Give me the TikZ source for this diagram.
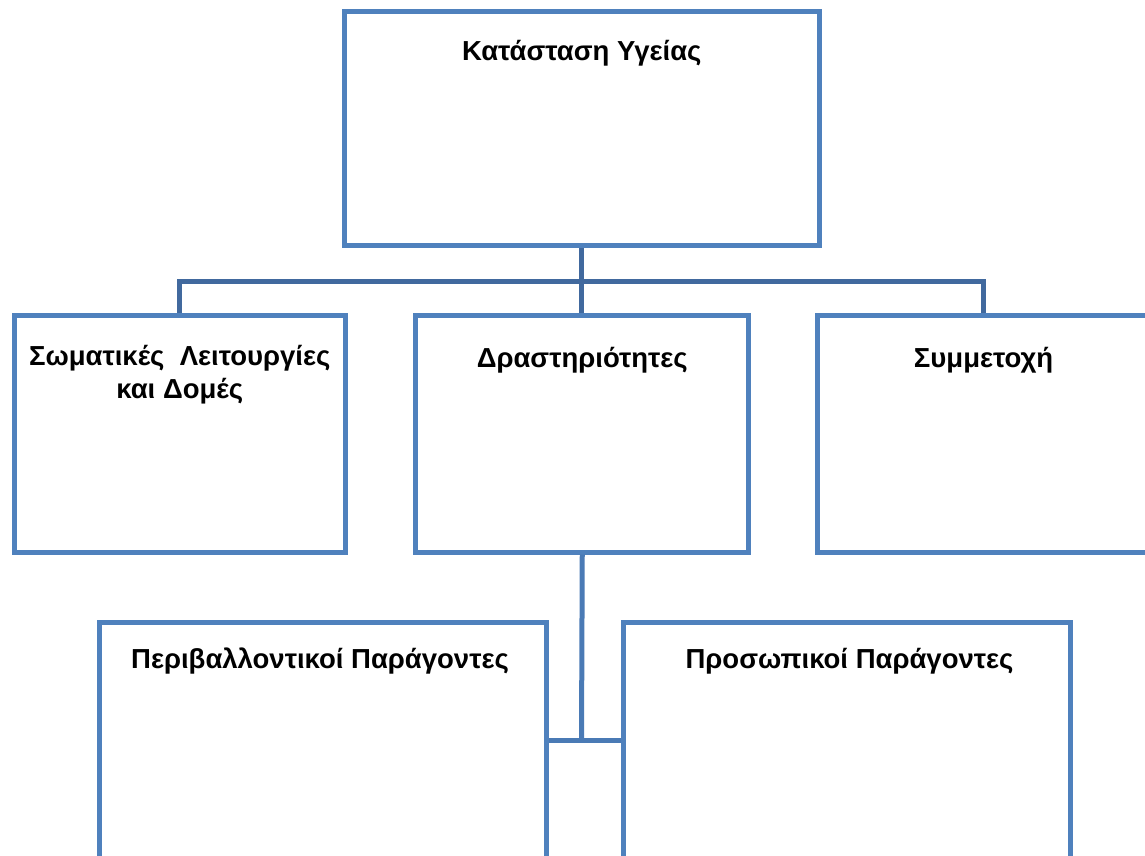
\documentclass[tikz,border=0pt]{standalone}
\usepackage{fontspec}
\setmainfont{Liberation Sans}
\usetikzlibrary{positioning}
\definecolor{boxblue}{HTML}{4F81BD}
\definecolor{linkblue}{HTML}{41699E}
\definecolor{hubblue}{HTML}{4A7AB5}

\begin{document}
\begin{tikzpicture}[x=1pt, y=-1pt,
box/.style={rectangle, draw=boxblue, line width=5pt, inner sep=0pt, minimum width=333pt, minimum height=237pt},
tag/.style={font=\fontsize{27.5}{33}\selectfont\bfseries, align=center, anchor=base, inner sep=0pt},
link/.style={draw=linkblue, line width=5pt}]

\clip (0,0) rectangle (1145,856);

%Health
\node [box, minimum width=474.5pt, minimum height=234pt] at (581.75,128.5) (health) {};
\node [tag] at (581.75,61) (healthtxt) {Κατάσταση Υγείας};

%Row of three
\node [box, minimum width=331.5pt] at (179.75,433.5) (body) {};
\node [tag] at (179.75,398) (bodytxt) {Σωματικές\ \ Λειτουργίες\\και Δομές};
\node [box] at (582.25,433.5) (tasks) {};
\node [tag] at (582.25,367) (taskstxt) {Δραστηριότητες};
\node [box, minimum width=332pt] at (983.5,433.5) (part) {};
\node [tag] at (983.5,367) (parttxt) {Συμμετοχή};

%Factors
\node [box, minimum width=447pt, minimum height=240pt] at (323,742) (env) {};
\node [tag] at (320,668) (envtxt) {Περιβαλλοντικοί Παράγοντες};
\node [box, minimum width=446.5pt, minimum height=240pt] at (846.75,742) (self) {};
\node [tag] at (849.5,668) (selftxt) {Προσωπικοί Παράγοντες};

%Links
\coordinate (bus) at (581.75,281);
\coordinate (hub) at (581.5,740);
\draw [link] (health.south) -- (health.south |- tasks.north);
\draw [link] (body.north) |- (bus) -| (part.north);
\draw [link, draw=hubblue] (tasks.south) -- (hub);
\draw [link, draw=hubblue] (env.east |- hub) -- (self.west |- hub);
\end{tikzpicture}
\end{document}
